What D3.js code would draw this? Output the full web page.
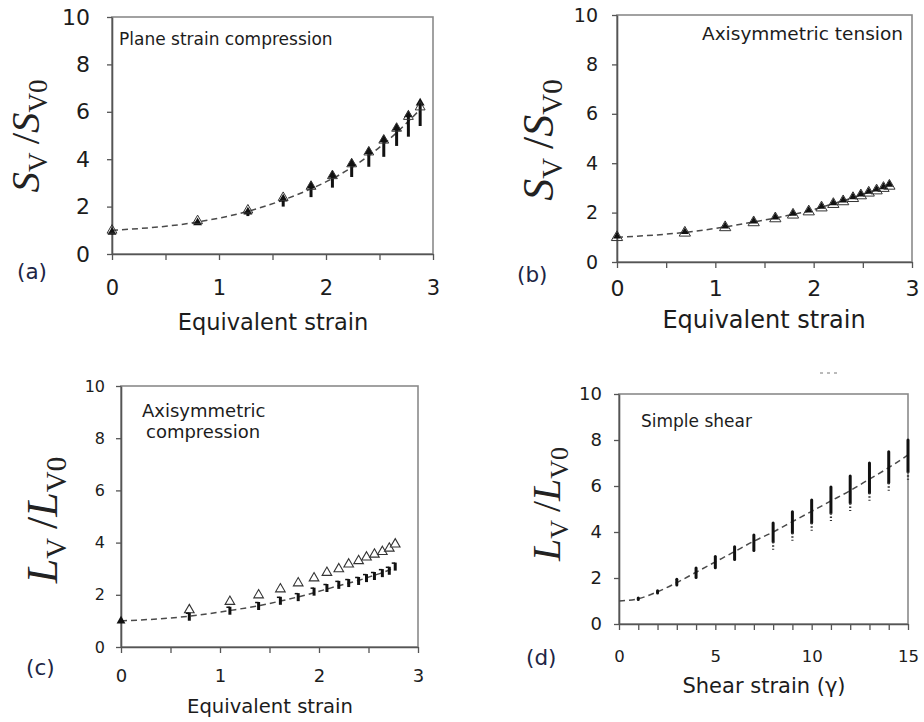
<!DOCTYPE html>
<html><head><meta charset="utf-8">
<script src="https://cdn.jsdelivr.net/npm/d3@7"></script>
<style>html,body{margin:0;padding:0;background:#fff;}svg{display:block;}</style>
</head><body>
<svg id="chart" width="924" height="722"></svg>
<script>
// ---------- DATA ----------
// (a) Plane strain compression
const aStrain  = [0, 0.8, 1.27, 1.6, 1.86, 2.06, 2.24, 2.4, 2.54, 2.66, 2.77, 2.88];
const aOpen    = [1.0, 1.4, 1.85, 2.38, 2.85, 3.3, 3.8, 4.3, 4.8, 5.3, 5.8, 6.2];
const aBarLow  = [0.95, 1.25, 1.6, 2.0, 2.4, 2.8, 3.25, 3.68, 4.1, 4.56, 4.95, 5.4];
const aBarHigh = [1.05, 1.45, 1.9, 2.45, 3.0, 3.45, 3.95, 4.45, 4.95, 5.45, 6.0, 6.5];
const aCurve   = [1.0, 1.35, 1.8, 2.28, 2.75, 3.18, 3.65, 4.15, 4.65, 5.12, 5.6, 6.1];
// (b) Axisymmetric tension
const bStrain  = [0, 0.69, 1.1, 1.39, 1.61, 1.79, 1.95, 2.08, 2.2, 2.3, 2.4, 2.48, 2.56, 2.64, 2.71, 2.77];
const bOpen    = [1.0, 1.18, 1.4, 1.6, 1.76, 1.91, 2.04, 2.2, 2.34, 2.45, 2.58, 2.69, 2.8, 2.89, 2.99, 3.08];
const bFilled  = [1.04, 1.22, 1.45, 1.65, 1.81, 1.96, 2.09, 2.25, 2.39, 2.5, 2.63, 2.74, 2.85, 2.94, 3.04, 3.14];
const bCurve   = [1.0, 1.2, 1.42, 1.62, 1.78, 1.93, 2.06, 2.22, 2.36, 2.48, 2.6, 2.71, 2.82, 2.92, 3.02, 3.1];
// (c) Axisymmetric compression
const cStrain  = [0, 0.69, 1.1, 1.39, 1.61, 1.79, 1.95, 2.08, 2.2, 2.3, 2.4, 2.48, 2.56, 2.64, 2.71, 2.77];
const cOpen    = [1.0, 1.42, 1.74, 1.99, 2.22, 2.45, 2.64, 2.85, 2.99, 3.17, 3.3, 3.44, 3.55, 3.65, 3.78, 3.94];
const cFilled  = [1.0, 1.16, 1.39, 1.57, 1.77, 1.91, 2.12, 2.26, 2.38, 2.45, 2.53, 2.64, 2.72, 2.83, 2.92, 3.08];
const cCurve   = [1.0, 1.18, 1.4, 1.58, 1.76, 1.92, 2.08, 2.22, 2.35, 2.45, 2.55, 2.65, 2.75, 2.85, 2.95, 3.05];
// (d) Simple shear
const dCurveShear = [0, 1, 2, 3, 4, 5, 6, 7, 8, 9, 10, 11, 12, 13, 14, 15];
const dCurve      = [1.0, 1.1, 1.4, 1.8, 2.25, 2.7, 3.15, 3.6, 4.0, 4.45, 4.9, 5.35, 5.8, 6.3, 6.8, 7.35];
const dBarShear   = [1, 2, 3, 4, 5, 6, 7, 8, 9, 10, 11, 12, 13, 14, 15];
const dBarLow     = [1.07, 1.35, 1.7, 2.02, 2.45, 2.8, 3.2, 3.58, 3.97, 4.4, 4.83, 5.26, 5.71, 6.14, 6.62];
const dBarHigh    = [1.13, 1.45, 1.95, 2.43, 2.93, 3.36, 3.87, 4.39, 4.88, 5.39, 5.96, 6.43, 7.0, 7.49, 8.0];
// ticks / labels
const yTicks = [0, 2, 4, 6, 8, 10];
const strainMajor = [0, 1, 2, 3];
const strainMinor = [0.5, 1.5, 2.5];
const shearMajor = [0, 5, 10, 15];
const shearMinor = [1, 2, 3, 4, 6, 7, 8, 9, 11, 12, 13, 14];

// ---------- DRAW ----------
const svg = d3.select("#chart");
svg.append("rect").attr("width", 924).attr("height", 722).attr("fill", "#fff");
const SANS = "'DejaVu Sans', Verdana, sans-serif";
const SERIF = "'Liberation Serif', 'DejaVu Serif', serif";
const INK = "#1c1c1c";

function panel(c) {
  const g = svg.append("g");
  const x = d3.scaleLinear().domain([0, c.xmax]).range([c.x0, c.x1]);
  const y = d3.scaleLinear().domain([0, 10]).range([c.yb, c.yt]);
  g.append("rect").attr("x", c.x0).attr("y", c.yt).attr("width", c.x1 - c.x0).attr("height", c.yb - c.yt)
    .attr("fill", "none").attr("stroke", "#8a8a8a").attr("stroke-width", 1.6);
  const ya = g.append("g").attr("transform", `translate(${c.x0},0)`)
    .call(d3.axisLeft(y).tickValues(yTicks).tickSize(5).tickSizeOuter(0).tickPadding(c.yPad).tickFormat(d3.format("d")));
  ya.select(".domain").attr("stroke", "#555").attr("stroke-width", 1.6);
  ya.selectAll(".tick line").attr("stroke", "#555").attr("stroke-width", 1.3);
  ya.selectAll("text").attr("font-family", SANS).attr("font-size", c.yFont).attr("fill", INK);
  const allX = c.major.concat(c.minor).sort((p, q) => p - q);
  const xa = g.append("g").attr("transform", `translate(0,${c.yb})`)
    .call(d3.axisBottom(x).tickValues(allX).tickSize(6).tickSizeOuter(0).tickPadding(c.xPad)
      .tickFormat(v => c.major.includes(v) ? d3.format("d")(v) : ""));
  xa.select(".domain").attr("stroke", "#555").attr("stroke-width", 1.6);
  xa.selectAll(".tick line").attr("stroke", "#555").attr("stroke-width", 1.3);
  xa.selectAll("text").attr("font-family", SANS).attr("font-size", c.xFont).attr("fill", INK);
  g.append("text").attr("x", c.titleX).attr("y", c.titleY).attr("text-anchor", "middle")
    .attr("font-family", SANS).attr("font-size", c.titleFont).attr("fill", INK).text(c.title);
  g.append("text").attr("x", c.letterX).attr("y", c.letterY)
    .attr("font-family", SANS).attr("font-size", 21.5).attr("fill", "#1d2545").text(c.letter);
  const t = g.append("text").attr("transform", `translate(${c.ylX},${c.ylY}) rotate(-90)`)
    .attr("text-anchor", "middle").attr("font-family", SERIF).attr("font-size", c.ylFont).attr("fill", "#222");
  const sub = Math.round(c.ylFont * 0.66), sh = Math.round(c.ylFont * 0.2);
  t.append("tspan").attr("font-style", "italic").text(c.ylSym);
  t.append("tspan").attr("font-size", sub).attr("dy", sh).text("V");
  t.append("tspan").attr("dy", -sh).text("\u2009/");
  t.append("tspan").attr("font-style", "italic").text(c.ylSym);
  t.append("tspan").attr("font-size", sub).attr("dy", sh).text("V0");
  return {g, x, y};
}

const line = (x, y) => d3.line().x(d => x(d[0])).y(d => y(d[1])).curve(d3.curveMonotoneX);
function dashed(g, x, y, xs, ys) {
  g.append("path").datum(xs.map((v, i) => [v, ys[i]])).attr("d", line(x, y))
    .attr("fill", "none").attr("stroke", "#4a4a4a").attr("stroke-width", 1.5).attr("stroke-dasharray", "6,4");
}
const tri = s => d3.symbol().type(d3.symbolTriangle).size(s)();

// ---- (a)
{
  const {g, x, y} = panel({x0:112, x1:433, yb:254, yt:17, xmax:3, major:strainMajor, minor:strainMinor,
    yPad:17, yFont:22, xPad:20, xFont:21, title:"Equivalent strain", titleX:273, titleY:330, titleFont:22.5,
    letter:"(a)", letterX:17, letterY:279, ylSym:"S", ylX:39, ylY:136, ylFont:41});
  g.append("text").attr("x", 119).attr("y", 45).attr("font-family", SANS).attr("font-size", 17)
    .attr("fill", INK).text("Plane strain compression");
  dashed(g, x, y, aStrain, aCurve);
  aStrain.forEach((s, i) => {
    g.append("line").attr("x1", x(s)).attr("x2", x(s)).attr("y1", y(aBarLow[i])).attr("y2", y(aBarHigh[i]) + 3)
      .attr("stroke", "#111").attr("stroke-width", 3);
    g.append("path").attr("d", tri(34)).attr("transform", `translate(${x(s)},${y(aBarHigh[i]) + 3})`).attr("fill", "#111");
    g.append("path").attr("d", tri(42)).attr("transform", `translate(${x(s)},${y(aOpen[i])})`)
      .attr("fill", "none").attr("stroke", "#333").attr("stroke-width", 1);
  });
}
// ---- (b)
{
  const {g, x, y} = panel({x0:617, x1:912, yb:262, yt:15, xmax:3, major:strainMajor, minor:strainMinor,
    yPad:14, yFont:19, xPad:12, xFont:22, title:"Equivalent strain", titleX:764, titleY:328, titleFont:24,
    letter:"(b)", letterX:517, letterY:282, ylSym:"S", ylX:553, ylY:140, ylFont:44});
  g.append("text").attr("x", 903).attr("y", 40).attr("text-anchor", "end").attr("font-family", SANS)
    .attr("font-size", 18.5).attr("fill", INK).text("Axisymmetric tension");
  dashed(g, x, y, bStrain, bCurve);
  bStrain.forEach((s, i) => {
    g.append("path").attr("d", tri(55)).attr("transform", `translate(${x(s)},${y(bOpen[i])})`)
      .attr("fill", "none").attr("stroke", "#333").attr("stroke-width", 1);
    g.append("path").attr("d", tri(26)).attr("transform", `translate(${x(s)},${y(bFilled[i])})`).attr("fill", "#111");
  });
}
// ---- (c)
{
  const {g, x, y} = panel({x0:121, x1:418, yb:647, yt:386, xmax:3, major:strainMajor, minor:strainMinor,
    yPad:11, yFont:16, xPad:16, xFont:18, title:"Equivalent strain", titleX:270, titleY:713, titleFont:19.6,
    letter:"(c)", letterX:26, letterY:675, ylSym:"L", ylX:57, ylY:520, ylFont:44});
  g.append("text").attr("x", 142).attr("y", 417).attr("font-family", SANS).attr("font-size", 18)
    .attr("fill", INK).text("Axisymmetric");
  g.append("text").attr("x", 146).attr("y", 438).attr("font-family", SANS).attr("font-size", 18)
    .attr("fill", INK).text("compression");
  dashed(g, x, y, cStrain, cCurve);
  cStrain.forEach((s, i) => {
    if (i === 0) {
      g.append("path").attr("d", tri(34)).attr("transform", `translate(${x(s)},${y(cFilled[i])})`).attr("fill", "#111");
      return;
    }
    g.append("path").attr("d", tri(40)).attr("transform", `translate(${x(s)},${y(cOpen[i])})`)
      .attr("fill", "#fff").attr("stroke", "#333").attr("stroke-width", 1.1);
    g.append("line").attr("x1", x(s)).attr("x2", x(s)).attr("y1", y(cFilled[i]) - 4).attr("y2", y(cFilled[i]) + 4)
      .attr("stroke", "#111").attr("stroke-width", 3);
    g.append("line").attr("x1", x(s) - 3.5).attr("x2", x(s)).attr("y1", y(cFilled[i]) - 3.5).attr("y2", y(cFilled[i]) - 3.5)
      .attr("stroke", "#111").attr("stroke-width", 1.5);
  });
}
// ---- (d)
{
  const {g, x, y} = panel({x0:619, x1:908, yb:624, yt:394, xmax:15, major:shearMajor, minor:shearMinor,
    yPad:12, yFont:18, xPad:20, xFont:16.5, title:"Shear strain (\u03b3)", titleX:764, titleY:693, titleFont:21,
    letter:"(d)", letterX:526, letterY:665, ylSym:"L", ylX:560, ylY:504, ylFont:40});
  g.append("text").attr("x", 641).attr("y", 427).attr("font-family", SANS).attr("font-size", 17)
    .attr("fill", INK).text("Simple shear");
  svg.append("line").attr("x1", 820).attr("x2", 841).attr("y1", 373).attr("y2", 373)
    .attr("stroke", "#777").attr("stroke-width", 1).attr("stroke-dasharray", "3,4");
  dashed(g, x, y, dCurveShear, dCurve);
  dBarShear.forEach((s, i) => {
    g.append("line").attr("x1", x(s)).attr("x2", x(s)).attr("y1", y(dBarLow[i])).attr("y2", y(dBarHigh[i]))
      .attr("stroke", "#111").attr("stroke-width", 3).attr("stroke-linecap", "round");
    if (s >= 8) {
      g.append("line").attr("x1", x(s)).attr("x2", x(s)).attr("y1", y(dBarLow[i])).attr("y2", y(dBarLow[i]) + 8)
        .attr("stroke", "#333").attr("stroke-width", 2.2).attr("stroke-dasharray", "1.5,2");
    }
  });
}
</script>
</body></html>
